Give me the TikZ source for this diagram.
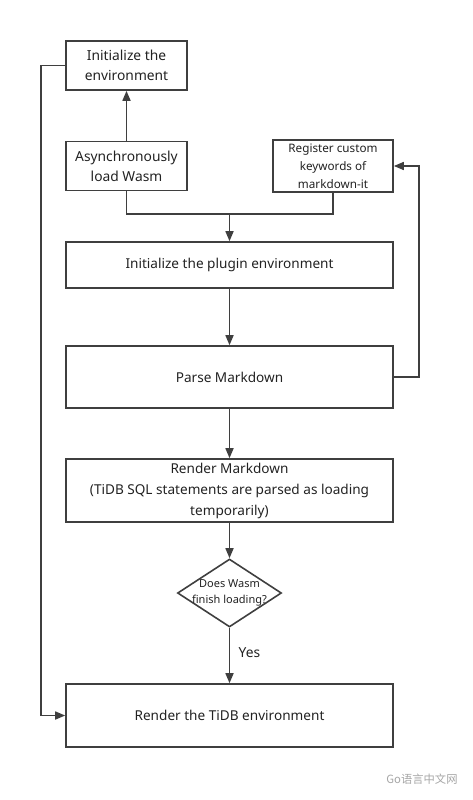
\documentclass[tikz,border=0pt]{standalone}
\usepackage{fontspec}
\setmainfont{Noto Sans}
\newfontfamily\cjkfont{Noto Sans CJK SC}
\usetikzlibrary{positioning,shapes.geometric,arrows.meta}
\definecolor{linegray}{HTML}{3F3F3F}
\definecolor{textgray}{HTML}{222222}

\begin{document}
\begin{tikzpicture}[
    x=1pt, y=-1pt,
    node distance=112pt,
    process/.style={draw=linegray, line width=1.6pt, rectangle, minimum width=327pt, minimum height=46pt,
        align=center, text=textgray, font=\fontsize{13.6}{21}\selectfont},
    smallbox/.style={process, minimum width=121pt, minimum height=49pt, font=\fontsize{13.8}{20}\selectfont},
    decision/.style={draw=linegray, line width=1.6pt, diamond, inner sep=0pt, minimum width=104pt, minimum height=68pt},
    arrow/.style={-{Triangle[length=10pt,width=8pt]}, draw=linegray, line width=1.6pt},
    link/.style={draw=linegray, line width=1.6pt}
]
    \useasboundingbox (0,0) rectangle (472,800);

    % Place nodes
    \node[smallbox] (init) at (126.5,65.5) {Initialize the\\environment};
    \node[smallbox, below of=init, yshift=11.5pt] (async) {Asynchronously\\load Wasm};
    \node[smallbox, right of=async, xshift=94.5pt, minimum width=120pt,
        font=\fontsize{11.7}{18}\selectfont] (register) {Register custom\\keywords of\\markdown-it};
    \node[process] (plugin) at (229.5,265) {Initialize the plugin environment};
    \node[process, below of=plugin, minimum height=62pt] (parse) {Parse Markdown};
    \node[process, below of=parse, yshift=-1.5pt, minimum height=63pt] (render)
        {Render Markdown\\(TiDB SQL statements are parsed as loading\\temporarily)};
    \node[decision, below of=render, yshift=9.5pt,
        label={[align=center, text=textgray, font=\fontsize{11}{16}\selectfont]center:Does Wasm\\finish loading?}] (check) {};
    \node[process, below of=check, yshift=-10.5pt, minimum height=63pt] (tidb) {Render the TiDB environment};
    \coordinate[above=27pt of plugin] (merge);

    % Add connections
    \draw[arrow] (async) -- (init);
    \draw[link] (async.south) |- (merge) -| (register.south);
    \draw[arrow] (merge) -- (plugin);
    \draw[arrow] (plugin) -- (parse);
    \draw[arrow] (parse.east) -- ++(25,0) |- (register.east);
    \draw[arrow] (parse) -- (render);
    \draw[arrow] (render) -- (check);
    \draw[arrow] (check) -- (tidb) node[midway, right, xshift=5pt, yshift=3pt, text=textgray,
        font=\fontsize{13.8}{15}\selectfont] (yes) {Yes};
    \draw[arrow] (init.west) -- ++(-24,0) |- (tidb.west);

    % Watermark
    \node[text=gray!70, font=\cjkfont\fontsize{11.3}{13}\selectfont] (mark) at (422,779) {Go语言中文网};
\end{tikzpicture}
\end{document}
